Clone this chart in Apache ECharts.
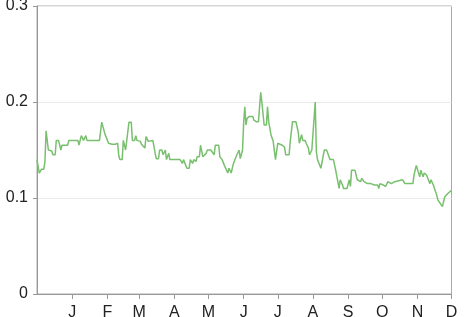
<!DOCTYPE html>
<html>
<head>
<meta charset="utf-8">
<script src="https://cdn.jsdelivr.net/npm/echarts@6/dist/echarts.min.js"></script>
<style>
html,body{margin:0;padding:0;background:#fff;}
#chart{width:466px;height:317px;}
</style>
</head>
<body>
<div id="chart"></div>
<script>
// Month tick labels (first letter of each month)
var monthLabels = ['J','F','M','A','M','J','J','A','S','O','N','D'];
var startDate = '2014-12-01';
var dayCount = 366; // Dec 1 2014 .. Dec 1 2015
var yTicks = [0, 0.1, 0.2, 0.3];

// Day offsets (from Dec 1) where values were read, and the values
var dayIndex = [0,2,3,4,6,7,8,10,13,14,16,17,19,21,22,27,28,36,37,39,40,41,43,44,55,57,60,61,63,64,66,69,71,72,73,75,76,78,79,81,83,84,86,87,88,91,92,93,95,96,98,99,102,104,105,107,108,110,111,113,114,116,117,121,126,128,129,132,134,135,137,138,140,141,143,144,146,149,150,153,156,157,160,161,163,165,166,168,169,171,172,173,176,178,179,181,182,183,184,185,187,190,191,192,193,195,197,198,200,202,203,204,206,207,208,210,212,213,216,218,219,222,223,225,228,230,231,233,234,236,237,239,240,242,243,245,246,247,248,250,251,253,255,258,261,263,264,266,267,269,270,273,275,276,277,280,282,285,286,288,289,291,292,294,297,300,301,302,305,306,307,309,310,312,315,316,322,324,331,332,334,335,337,338,340,341,343,344,346,347,349,350,352,353,355,356,357,359,362,363,365];
var values = [0.14,0.126,0.126,0.13,0.13,0.138,0.17,0.15,0.149,0.145,0.145,0.16,0.16,0.15,0.155,0.155,0.16,0.16,0.155,0.165,0.165,0.16,0.165,0.16,0.16,0.179,0.166,0.164,0.157,0.159,0.156,0.156,0.157,0.144,0.14,0.14,0.16,0.15,0.15,0.179,0.179,0.16,0.16,0.165,0.16,0.159,0.156,0.157,0.152,0.164,0.159,0.16,0.16,0.147,0.141,0.141,0.15,0.15,0.145,0.15,0.14,0.1465,0.14,0.14,0.14,0.136,0.14,0.131,0.131,0.14,0.136,0.14,0.138,0.143,0.143,0.155,0.143,0.1465,0.15,0.15,0.145,0.155,0.155,0.143,0.14,0.134,0.134,0.126,0.131,0.126,0.126,0.136,0.145,0.15,0.141,0.15,0.179,0.195,0.176,0.183,0.185,0.185,0.181,0.183,0.1795,0.1795,0.21,0.2,0.176,0.176,0.195,0.1795,0.166,0.166,0.159,0.14,0.157,0.155,0.155,0.153,0.145,0.145,0.159,0.1795,0.1795,0.169,0.157,0.166,0.16,0.16,0.157,0.152,0.145,0.15,0.15,0.2,0.148,0.14,0.14,0.131,0.131,0.15,0.15,0.14,0.14,0.129,0.129,0.11,0.119,0.1135,0.11,0.11,0.119,0.112,0.129,0.129,0.119,0.117,0.1205,0.117,0.119,0.115,0.117,0.115,0.1135,0.1135,0.11,0.115,0.1135,0.115,0.112,0.117,0.115,0.115,0.117,0.119,0.119,0.115,0.115,0.124,0.134,0.1325,0.122,0.129,0.122,0.126,0.124,0.124,0.115,0.119,0.1135,0.11,0.103,0.098,0.0945,0.093,0.091,0.101,0.105,0.105,0.108];

// Build daily category list (axis categories, not data)
var categories = [];
var start = new Date(startDate + 'T00:00:00Z');
for (var i = 0; i < dayCount; i++) {
  var d = new Date(start.getTime() + i * 86400000);
  categories.push(d.toISOString().slice(0, 10));
}
function isMonthStart(idx) {
  return idx > 0 && categories[idx].slice(8, 10) === '01';
}
var seriesData = dayIndex.map(function (di, k) { return [categories[di], values[k]]; });

var chart = echarts.init(document.getElementById('chart'), null, {renderer: 'canvas'});
var font = 'Liberation Sans, Arial, Helvetica, sans-serif';
chart.setOption({
  animation: false,
  backgroundColor: '#fff',
  grid: {left: 37, right: 14.5, top: 6, bottom: 23, show: true, borderColor: '#aaa', borderWidth: 1,
    containLabel: false, outerBoundsMode: 'none'},
  xAxis: {
    type: 'category',
    data: categories,
    boundaryGap: false,
    axisLine: {lineStyle: {color: '#999', width: 1}},
    axisTick: {length: 5, lineStyle: {color: '#999'}, interval: function (idx) { return isMonthStart(idx); }},
    axisLabel: {
      interval: function (idx) { return isMonthStart(idx); },
      formatter: function (val) { return monthLabels[parseInt(val.slice(5, 7), 10) - 1]; },
      color: '#222', fontSize: 16, fontFamily: font, margin: 11
    },
    splitLine: {show: false}
  },
  yAxis: {
    type: 'value',
    min: yTicks[0], max: yTicks[yTicks.length - 1], interval: 0.1,
    axisLine: {show: true, lineStyle: {color: '#999', width: 1}},
    axisTick: {show: true, length: 4, lineStyle: {color: '#999'}},
    axisLabel: {color: '#222', fontSize: 16, fontFamily: font, margin: 9,
      formatter: function (v) { return String(Math.round(v * 10) / 10); }},
    splitLine: {show: true, lineStyle: {color: '#ebebeb', width: 1}}
  },
  series: [{
    type: 'line',
    data: seriesData,
    showSymbol: false,
    lineStyle: {color: '#78c06e', width: 1.5},
    itemStyle: {color: '#78c06e'}
  }]
});
</script>
</body>
</html>
